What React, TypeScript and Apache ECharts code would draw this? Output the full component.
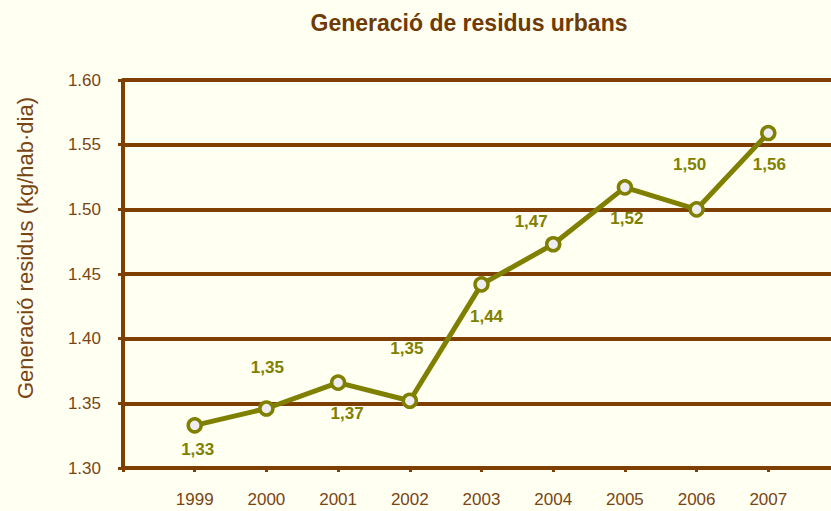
import React, { useEffect, useRef } from "react";
import * as echarts from "echarts";

const years = [1999, 2000, 2001, 2002, 2003, 2004, 2005, 2006, 2007];
const residus = [1.333, 1.346, 1.366, 1.352, 1.442, 1.473, 1.517, 1.5, 1.559];
const yTicks = ["1.30", "1.35", "1.40", "1.45", "1.50", "1.55", "1.60"];

const titleText = "Generació de residus urbans";
const yAxisName = "Generació residus (kg/hab·dia)";

// label placement (style): offset of each value label from its point, px
const labelOffsets: [number, number][] = [
  [3, 24],
  [1, -41],
  [9, 31],
  [-3, -52],
  [5, 32],
  [-22, -23],
  [2, 31],
  [-7, -45],
  [1, 31],
];

const BROWN = "#7f3f00";
const TEXT_BROWN = "#7a4514";
const OLIVE = "#808000";
const FONT = "'Liberation Sans', Arial, sans-serif";

export default function App() {
  const ref = useRef<HTMLDivElement>(null);
  useEffect(() => {
    if (!ref.current) return;
    const chart = echarts.init(ref.current, undefined, { renderer: "svg" });
    const yMin = parseFloat(yTicks[0]);
    const yMax = parseFloat(yTicks[yTicks.length - 1]);
    chart.setOption({
      animation: false,
      backgroundColor: "#fffff2",
      textStyle: { fontFamily: FONT },
      graphic: [
        {
          type: "text",
          x: 469,
          y: 23,
          style: {
            text: titleText,
            fill: "#6e3a05",
            font: `bold 23px ${FONT}`,
            textAlign: "center",
            textVerticalAlign: "middle",
          },
        },
        {
          type: "text",
          x: 25,
          y: 248,
          rotation: Math.PI / 2,
          style: {
            text: yAxisName,
            fill: TEXT_BROWN,
            font: `22px ${FONT}`,
            textAlign: "center",
            textVerticalAlign: "middle",
          },
        },
      ],
      grid: { left: 123, top: 80, height: 388, width: 717, outerBoundsMode: "none", containLabel: false },
      xAxis: {
        type: "value",
        min: years[0] - 1,
        max: years[years.length - 1] + 1,
        interval: 1,
        splitLine: { show: false },
        axisLine: { show: true, onZero: false, lineStyle: { color: BROWN, width: 4 } },
        axisTick: { show: true, length: 4, lineStyle: { color: BROWN, width: 3 } },
        axisLabel: {
          color: TEXT_BROWN,
          fontSize: 17,
          margin: 23,
          fontFamily: FONT,
          formatter: (v: number) => (years.includes(v) ? String(v) : ""),
        },
      },
      yAxis: {
        type: "value",
        min: yMin,
        max: yMax,
        interval: 0.05,
        axisLine: { show: true, lineStyle: { color: BROWN, width: 4 } },
        axisTick: { show: true, length: 5, lineStyle: { color: BROWN, width: 3 } },
        splitLine: { show: true, lineStyle: { color: BROWN, width: 4 } },
        axisLabel: {
          color: TEXT_BROWN,
          fontSize: 17,
          margin: 22,
          fontFamily: FONT,
          formatter: (v: number) => v.toFixed(2),
        },
      },
      series: [
        {
          type: "line",
          data: years.map((y, i) => ({
            value: [y, residus[i]],
            label: { offset: labelOffsets[i] },
          })),
          lineStyle: { color: OLIVE, width: 5 },
          itemStyle: { color: "#eeeef2", borderColor: OLIVE, borderWidth: 3.5 },
          symbol: "circle",
          symbolSize: 13,
          z: 3,
          label: {
            show: true,
            position: "inside",
            color: OLIVE,
            fontWeight: "bold",
            fontSize: 17,
            fontFamily: FONT,
            formatter: (p: any) => p.value[1].toFixed(2).replace(".", ","),
          },
        },
      ],
    });
    return () => chart.dispose();
  }, []);
  return (
    <div
      ref={ref}
      style={{ position: "fixed", left: 0, top: 0, width: 831, height: 511 }}
    />
  );
}
